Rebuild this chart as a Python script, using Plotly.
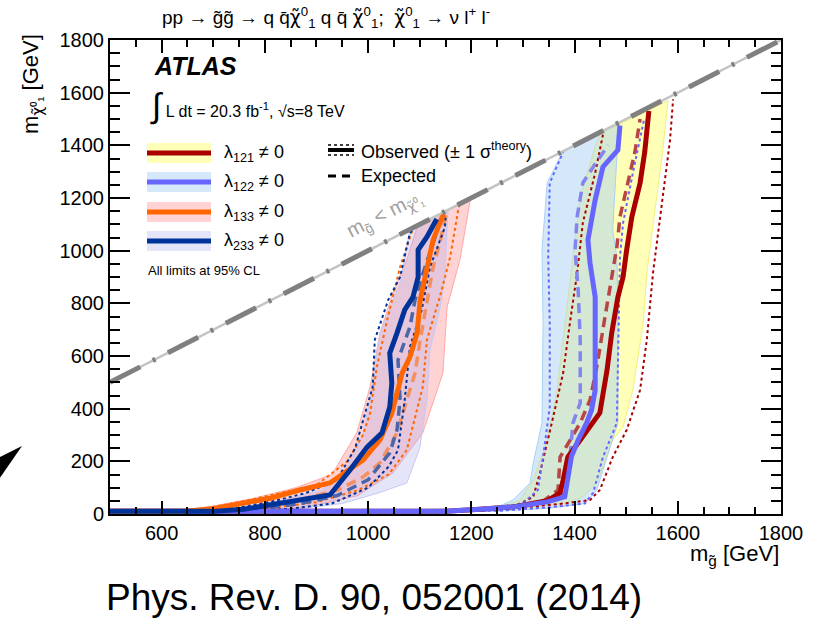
import plotly.graph_objects as go

# ---------------------------------------------------------------------------
# Exclusion contours in the (m_gluino, m_neutralino) plane, GeV.
# Each contour is a list of (m_gluino, m_chi10) points.
# ---------------------------------------------------------------------------

# lambda_121
l121_obs = [(500, 10), (1150, 10), (1217, 18), (1281, 27), (1347, 50), (1372, 80), (1378, 129),
            (1387, 216), (1411, 281), (1436, 346), (1449, 384), (1463, 547), (1472, 687),
            (1484, 824), (1494, 900), (1501, 1003), (1511, 1128), (1527, 1257), (1536, 1375),
            (1544, 1530)]
l121_exp = [(500, 10), (1150, 10), (1220, 18), (1290, 30), (1340, 50), (1368, 91), (1372, 216),
            (1391, 281), (1411, 346), (1430, 433), (1443, 558), (1459, 748), (1474, 915),
            (1482, 1014), (1488, 1128), (1503, 1257), (1517, 1375), (1527, 1500)]
l121_obs_up = [(500, 10), (1150, 10), (1230, 20), (1290, 35), (1320, 65), (1333, 156), (1356, 346),
               (1378, 536), (1391, 725), (1405, 915), (1416, 1105), (1440, 1295), (1455, 1440)]
l121_obs_dn = [(500, 10), (1200, 12), (1300, 25), (1380, 40), (1430, 53), (1449, 91), (1474, 216),
               (1501, 319), (1527, 471), (1540, 661), (1552, 915), (1569, 1166), (1585, 1420),
               (1591, 1575)]
l121_band_lo = [(500, 8), (1150, 8), (1250, 18), (1294, 53), (1320, 129), (1347, 281), (1366, 471),
                (1381, 725), (1397, 976), (1411, 1204), (1440, 1394), (1450, 1445)]
l121_band_hi = [(500, 8), (1300, 20), (1380, 40), (1416, 65), (1443, 118), (1474, 281), (1494, 330),
                (1513, 471), (1533, 725), (1540, 915), (1556, 1166), (1571, 1382), (1581, 1570)]

# lambda_122
l122_obs = [(500, 10), (1150, 10), (1217, 18), (1281, 27), (1347, 46), (1381, 65), (1394, 218),
            (1407, 281), (1423, 344), (1433, 395), (1440, 471), (1440, 824), (1430, 953),
            (1426, 1041), (1440, 1193), (1455, 1318), (1484, 1382), (1488, 1475)]
l122_exp = [(500, 10), (1150, 10), (1220, 18), (1290, 30), (1345, 50), (1378, 65), (1391, 216),
            (1397, 346), (1411, 422), (1411, 661), (1407, 851), (1401, 1003), (1405, 1128),
            (1416, 1257), (1436, 1318), (1465, 1400)]
l122_obs_up = [(500, 10), (1150, 10), (1240, 20), (1300, 40), (1329, 91), (1339, 216), (1352, 406),
               (1352, 725), (1349, 976), (1352, 1257), (1378, 1375)]
l122_obs_dn = [(500, 10), (1250, 12), (1350, 25), (1420, 40), (1436, 80), (1455, 216), (1482, 346),
               (1484, 596), (1488, 976), (1494, 1105), (1513, 1295), (1535, 1500)]
l122_band_lo = [(500, 6), (1150, 6), (1240, 18), (1281, 53), (1314, 118), (1320, 194), (1337, 346),
                (1339, 725), (1337, 1003), (1347, 1257), (1372, 1356), (1380, 1380)]
l122_band_hi = [(500, 6), (1250, 10), (1350, 22), (1420, 40), (1443, 91), (1463, 216), (1484, 346),
                (1484, 786), (1482, 976), (1474, 1079), (1482, 1356), (1485, 1485)]

# lambda_133
l133_obs = [(500, 10), (640, 10), (700, 20), (760, 40), (810, 60), (868, 91), (926, 118),
            (990, 205), (1023, 281), (1046, 383), (1066, 535), (1081, 596), (1095, 687),
            (1101, 813), (1114, 938), (1126, 1041), (1146, 1140)]
l133_exp = [(500, 10), (700, 10), (780, 25), (860, 50), (940, 90), (990, 140), (1023, 194),
            (1056, 308), (1075, 433), (1091, 535), (1101, 661), (1114, 813), (1126, 938),
            (1139, 1029), (1149, 1117), (1152, 1145)]
l133_obs_up = [(500, 10), (620, 10), (680, 20), (750, 45), (820, 75), (900, 110), (960, 200),
               (990, 300), (1004, 383), (1017, 558), (1037, 737), (1062, 938), (1087, 1085)]
l133_obs_dn = [(500, 10), (720, 10), (800, 20), (900, 45), (980, 90), (1040, 150), (1075, 243),
               (1106, 483), (1114, 661), (1139, 824), (1159, 976), (1174, 1143), (1176, 1170)]
l133_band_lo = [(500, 8), (620, 8), (700, 30), (780, 60), (860, 100), (930, 150), (978, 308),
                (1004, 483), (1023, 687), (1048, 839), (1075, 965), (1095, 1090), (1100, 1100)]
l133_band_hi = [(500, 8), (760, 8), (880, 25), (980, 70), (1048, 156), (1106, 308), (1145, 535),
                (1153, 786), (1178, 965), (1197, 1181), (1200, 1200)]

# lambda_233
l233_obs = [(500, 10), (700, 10), (760, 18), (810, 34), (868, 53), (926, 72), (965, 167),
            (998, 254), (1027, 308), (1042, 406), (1046, 497), (1042, 611), (1056, 687),
            (1071, 775), (1087, 824), (1097, 900), (1097, 1003), (1114, 1052), (1133, 1120)]
l233_exp = [(500, 10), (720, 10), (800, 22), (870, 40), (940, 70), (1000, 130), (1042, 232),
            (1056, 319), (1062, 433), (1058, 585), (1081, 710), (1091, 813), (1104, 900),
            (1120, 991), (1130, 1052), (1140, 1120)]
l233_obs_up = [(500, 10), (680, 10), (750, 25), (820, 50), (880, 80), (940, 130), (975, 250),
               (990, 357), (1009, 483), (1013, 661), (1039, 813), (1062, 900), (1081, 1067),
               (1090, 1085)]
l233_obs_dn = [(500, 10), (750, 10), (850, 20), (930, 40), (1000, 100), (1040, 180), (1058, 243),
               (1071, 433), (1081, 634), (1104, 775), (1120, 938), (1149, 1090), (1150, 1125)]
l233_band_lo = [(500, 8), (680, 8), (760, 25), (840, 55), (910, 90), (960, 180), (990, 300),
                (1004, 433), (1023, 687), (1062, 877), (1081, 1079), (1085, 1085)]
l233_band_hi = [(500, 8), (760, 8), (860, 18), (950, 40), (1020, 80), (1075, 118), (1100, 250),
                (1114, 433), (1120, 623), (1139, 775), (1149, 900), (1153, 1090), (1155, 1150)]

# kinematic boundary m_gluino = m_chi
diag_x = [500, 1800]
diag_y = [500, 1800]

legend_labels = ["λ<sub>121</sub> ≠ 0", "λ<sub>122</sub> ≠ 0",
                 "λ<sub>133</sub> ≠ 0", "λ<sub>233</sub> ≠ 0"]

FONT = "Liberation Sans, Arial, Helvetica, sans-serif"
CHI = "<span style='font-family:DejaVu Sans'>χ̃</span>"

# plot-area geometry in pixels (used for placing decorations in paper units)
L, R, T, B = 110, 781, 40, 514


def pxx(p):
    return (p - L) / (R - L)


def pxy(p):
    return (B - p) / (B - T)


def xy(points):
    xs = [p[0] for p in points]
    ys = [p[1] for p in points]
    return xs, ys


styles = {
    "121": dict(obs="#aa0000", exp="#b84444", band="rgba(255,255,160,0.75)", edge="#f4f07a"),
    "122": dict(obs="#6666ff", exp="#8484ee", band="rgba(160,205,245,0.45)", edge="#a8d2f2"),
    "133": dict(obs="#ff6600", exp="#f39060", band="rgba(255,140,140,0.38)", edge="#ffa8a8"),
    "233": dict(obs="#003399", exp="#4a66a8", band="rgba(170,170,240,0.30)", edge="#c8c8f4"),
}

contours = {
    "121": (l121_obs, l121_exp, l121_obs_up, l121_obs_dn, l121_band_lo, l121_band_hi),
    "122": (l122_obs, l122_exp, l122_obs_up, l122_obs_dn, l122_band_lo, l122_band_hi),
    "133": (l133_obs, l133_exp, l133_obs_up, l133_obs_dn, l133_band_lo, l133_band_hi),
    "233": (l233_obs, l233_exp, l233_obs_up, l233_obs_dn, l233_band_lo, l233_band_hi),
}

fig = go.Figure()

# expected +-1 sigma bands
for key in ["121", "122", "133", "233"]:
    obs, exp, up, dn, blo, bhi = contours[key]
    poly = list(blo) + list(reversed(bhi))
    bx, by = xy(poly)
    fig.add_trace(go.Scatter(x=bx, y=by, mode="lines", fill="toself",
                             fillcolor=styles[key]["band"],
                             line=dict(color=styles[key]["edge"], width=1),
                             hoverinfo="skip", showlegend=False))

# observed +-1 sigma(theory) and expected lines
for key in ["121", "122", "133", "233"]:
    obs, exp, up, dn, blo, bhi = contours[key]
    st = styles[key]
    for c in (up, dn):
        cx, cy = xy(c)
        fig.add_trace(go.Scatter(x=cx, y=cy, mode="lines",
                                 line=dict(color=st["obs"], width=2, dash="dot"),
                                 hoverinfo="skip", showlegend=False))
    ex, ey = xy(exp)
    fig.add_trace(go.Scatter(x=ex, y=ey, mode="lines",
                             line=dict(color=st["exp"], width=3.5, dash="10px,6px"),
                             hoverinfo="skip", showlegend=False))

for key in ["121", "122", "133", "233"]:
    obs = contours[key][0]
    ox, oy = xy(obs)
    fig.add_trace(go.Scatter(x=ox, y=oy, mode="lines",
                             line=dict(color=styles[key]["obs"], width=5),
                             hoverinfo="skip", showlegend=False))

# kinematic boundary
fig.add_trace(go.Scatter(x=diag_x, y=diag_y, mode="lines",
                         line=dict(color="#c4c4c4", width=2.5),
                         hoverinfo="skip", showlegend=False))
fig.add_trace(go.Scatter(x=diag_x, y=diag_y, mode="lines",
                         line=dict(color="#808080", width=5, dash="34px,14px,3px,14px"),
                         hoverinfo="skip", showlegend=False))

shapes = []
annotations = []

# coupling legend: band swatch with line on top
swatch_y = [153, 182, 212, 241]
for key, yc, lab in zip(["121", "122", "133", "233"], swatch_y, legend_labels):
    st = styles[key]
    shapes.append(dict(type="rect", xref="paper", yref="paper",
                       x0=pxx(147), x1=pxx(211), y0=pxy(yc + 10), y1=pxy(yc - 10),
                       fillcolor=st["band"], line=dict(width=0)))
    shapes.append(dict(type="line", xref="paper", yref="paper",
                       x0=pxx(147), x1=pxx(211), y0=pxy(yc), y1=pxy(yc),
                       line=dict(color=st["obs"], width=5)))
    annotations.append(dict(text=lab, xref="paper", yref="paper", x=pxx(222), y=pxy(yc),
                            xanchor="left", yanchor="middle", showarrow=False,
                            font=dict(family=FONT, size=18, color="black")))

# observed / expected style legend
shapes.append(dict(type="line", xref="paper", yref="paper", x0=pxx(328), x1=pxx(354),
                   y0=pxy(150), y1=pxy(150), line=dict(color="black", width=4)))
for dy in (-5, 5):
    shapes.append(dict(type="line", xref="paper", yref="paper", x0=pxx(328), x1=pxx(354),
                       y0=pxy(150 + dy), y1=pxy(150 + dy),
                       line=dict(color="black", width=1.5, dash="dot")))
shapes.append(dict(type="line", xref="paper", yref="paper", x0=pxx(328), x1=pxx(354),
                   y0=pxy(176), y1=pxy(176), line=dict(color="black", width=3, dash="8px,6px")))
annotations.append(dict(text="Observed (± 1 σ<sup>theory</sup>)", xref="paper", yref="paper",
                        x=pxx(359), y=pxy(150), xanchor="left", yanchor="middle",
                        showarrow=False, font=dict(family=FONT, size=18, color="black")))
annotations.append(dict(text="Expected", xref="paper", yref="paper",
                        x=pxx(359), y=pxy(176), xanchor="left", yanchor="middle",
                        showarrow=False, font=dict(family=FONT, size=18, color="black")))

annotations.append(dict(text="All limits at 95% CL", xref="paper", yref="paper",
                        x=pxx(146), y=pxy(270), xanchor="left", yanchor="middle",
                        showarrow=False, font=dict(family=FONT, size=13, color="black")))
annotations.append(dict(text="<b><i>ATLAS</i></b>", xref="paper", yref="paper",
                        x=pxx(152), y=pxy(66), xanchor="left", yanchor="middle",
                        showarrow=False, font=dict(family=FONT, size=25, color="black")))
annotations.append(dict(text="<span style='font-size:34px'>∫</span> L dt = 20.3 fb<sup>-1</sup>, √s=8 TeV",
                        xref="paper", yref="paper", x=pxx(148), y=pxy(106),
                        xanchor="left", yanchor="middle", showarrow=False,
                        font=dict(family=FONT, size=16, color="black")))

# boundary label along the diagonal
annotations.append(dict(text=f"m<sub>g̃</sub> < m<sub>{CHI}⁰₁</sub>", xref="x", yref="y",
                        x=1033, y=1138, textangle=-27, showarrow=False,
                        font=dict(family=FONT, size=20, color="#a0a0a0")))

# process title
annotations.append(dict(text=f"pp → g̃g̃ → q q̄{CHI}<sup>0</sup><sub>1</sub> q q̄ {CHI}<sup>0</sup><sub>1</sub>;  "
                             f"{CHI}<sup>0</sup><sub>1</sub> → ν l<sup>+</sup> l<sup>-</sup>",
                        xref="paper", yref="paper", x=pxx(326), y=pxy(18),
                        xanchor="center", yanchor="middle", showarrow=False,
                        font=dict(family=FONT, size=19, color="black")))

# axis titles
annotations.append(dict(text="m<sub>g̃</sub> [GeV]", xref="paper", yref="paper",
                        x=1.0, y=pxy(555), xanchor="right", yanchor="middle",
                        showarrow=False, font=dict(family=FONT, size=22, color="black")))
annotations.append(dict(text=f"m<sub>{CHI}⁰₁</sub> [GeV]", xref="paper", yref="paper",
                        x=pxx(33), y=pxy(84), xanchor="center", yanchor="middle",
                        textangle=-90, showarrow=False,
                        font=dict(family=FONT, size=22, color="black")))

# reference
annotations.append(dict(text="Phys. Rev. D. 90, 052001 (2014)", xref="paper", yref="paper",
                        x=pxx(104), y=pxy(597), xanchor="left", yanchor="middle",
                        showarrow=False, font=dict(family=FONT, size=37, color="black")))

# arrow head at the lower-left edge
shapes.append(dict(type="path", xref="paper", yref="paper",
                   path=f"M {pxx(-12)} {pxy(463)} L {pxx(22)} {pxy(446)} L {pxx(-12)} {pxy(495)} Z",
                   fillcolor="black", line=dict(color="black", width=0)))

axis_common = dict(showline=True, linecolor="black", linewidth=2, mirror="allticks",
                   ticks="inside", showgrid=False, zeroline=False, tickcolor="black",
                   tickwidth=1.5, dtick=200, tick0=0,
                   tickfont=dict(family=FONT, size=20, color="black"))

fig.update_layout(
    width=825, height=618,
    margin=dict(l=L, r=825 - R, t=T, b=618 - B),
    paper_bgcolor="white", plot_bgcolor="white",
    showlegend=False,
    shapes=shapes, annotations=annotations,
    xaxis=dict(range=[500, 1800], ticklen=13,
               minor=dict(dtick=50, ticks="inside", ticklen=7, tickcolor="black", tickwidth=1.5),
               **axis_common),
    yaxis=dict(range=[0, 1800], ticklen=20,
               minor=dict(dtick=50, ticks="inside", ticklen=10, tickcolor="black", tickwidth=1.5),
               **axis_common),
)

fig.write_html("out.html")
